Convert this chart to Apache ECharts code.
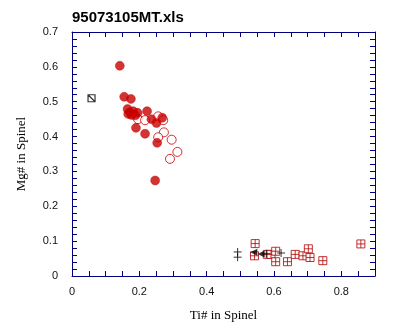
<!DOCTYPE html>
<html><head><meta charset="utf-8">
<script src="https://cdn.jsdelivr.net/npm/echarts@6/dist/echarts.min.js"></script>
<style>html,body{margin:0;padding:0;background:#fff}#c{width:396px;height:327px}</style>
</head><body><div id="c"></div>
<script>
// Filled red circles [Ti#, Mg#]
var filledCircles = [
  [0.142,0.603],[0.155,0.514],[0.175,0.508],[0.165,0.479],[0.172,0.470],
  [0.182,0.473],[0.195,0.468],[0.177,0.462],[0.167,0.465],[0.188,0.461],
  [0.223,0.473],[0.236,0.450],[0.251,0.439],[0.268,0.454],[0.190,0.425],
  [0.217,0.408],[0.253,0.382],[0.247,0.274]
];
// Open red circles
var openCircles = [
  [0.196,0.450],[0.217,0.447],[0.256,0.458],[0.271,0.447],[0.273,0.412],
  [0.256,0.398],[0.296,0.391],[0.313,0.356],[0.291,0.336]
];
// Red crossed squares
var crossSquares = [
  [0.544,0.093],[0.542,0.058],[0.580,0.062],[0.591,0.062],[0.605,0.071],
  [0.605,0.041],[0.640,0.041],[0.663,0.062],[0.686,0.058],[0.702,0.078],
  [0.707,0.053],[0.745,0.044],[0.858,0.092]
];
// Black square with diagonal
var diagSquares = [[0.058,0.510]];
// Black plus signs
var plusMarks = [[0.492,0.069],[0.492,0.054],[0.577,0.064],[0.621,0.066]];
// Black triangles
var triMarks = [[0.540,0.068],[0.562,0.063]];

var xTitle = 'Ti# in Spinel';
var yTitle = 'Mg# in Spinel';
var chartTitle = '95073105MT.xls';

var red = '#c80000';
var navy = '#000080';
function fmt(step){
  return function(v){
    var k = v/step;
    if (Math.abs(k - Math.round(k)) > 1e-6) return '';
    if (Math.abs(v) < 1e-9) return '0';
    return v.toFixed(1);
  };
}
var axisBase = {
  axisLine:{show:true,onZero:false,lineStyle:{color:navy,width:1}},
  axisTick:{show:true,inside:true,length:5,lineStyle:{color:navy}},
  splitLine:{show:false}
};
var chart = echarts.init(document.getElementById('c'),null,{renderer:'canvas'});
chart.setOption({
  animation:false,
  backgroundColor:'#fff',
  title:{text:chartTitle,left:72,top:10,padding:0,textStyle:{fontFamily:'Liberation Sans, Arial',fontWeight:'bold',fontSize:15,color:'#000'}},
  grid:{left:72,top:32,right:21,bottom:43},
  xAxis:[
    Object.assign({type:'value',min:0,max:0.9,interval:0.05,position:'bottom',
      name:xTitle,nameLocation:'middle',nameGap:33,
      nameTextStyle:{fontFamily:'Liberation Serif, Times New Roman',fontSize:13,color:'#000'},
      axisLabel:{formatter:fmt(0.2),margin:10,fontFamily:'Liberation Sans, Arial',fontSize:11,color:'#111',showMaxLabel:false}},axisBase),
    Object.assign({type:'value',min:0,max:0.9,interval:0.05,position:'top',axisLabel:{show:false}},axisBase)
  ],
  yAxis:[
    Object.assign({type:'value',min:0,max:0.7,interval:0.02,position:'left',
      name:yTitle,nameLocation:'middle',nameGap:44,
      nameTextStyle:{fontFamily:'Liberation Serif, Times New Roman',fontSize:13,color:'#000'},
      axisLabel:{formatter:fmt(0.1),margin:14,fontFamily:'Liberation Sans, Arial',fontSize:11,color:'#111'}},axisBase),
    Object.assign({type:'value',min:0,max:0.7,interval:0.02,position:'right',axisLabel:{show:false}},axisBase)
  ],
  series:[
    {type:'scatter',data:openCircles,symbol:'circle',symbolSize:9,
      itemStyle:{color:'#fff',borderColor:red,borderWidth:1}},
    {type:'scatter',data:filledCircles,symbol:'circle',symbolSize:9,
      itemStyle:{color:red,borderColor:red,borderWidth:0.5}},
    {type:'scatter',data:crossSquares,symbol:'path://M0,0H10V10H0Z M5,0V10 M0,5H10',symbolSize:8,symbolKeepAspect:true,
      itemStyle:{color:'#fff',borderColor:'#b00000',borderWidth:1}},
    {type:'scatter',data:diagSquares,symbol:'path://M0,0H10V10H0Z M0,0L10,10',symbolSize:7,symbolKeepAspect:true,
      itemStyle:{color:'#fff',borderColor:'#000',borderWidth:1.2}},
    {type:'scatter',data:plusMarks,symbol:'path://M5,0V10 M0,5H10',symbolSize:8,symbolKeepAspect:true,
      itemStyle:{color:'none',borderColor:'#000',borderWidth:1}},
    {type:'scatter',data:triMarks,symbol:'triangle',symbolRotate:90,symbolSize:7,
      itemStyle:{color:'#000'}}
  ]
});
</script></body></html>
